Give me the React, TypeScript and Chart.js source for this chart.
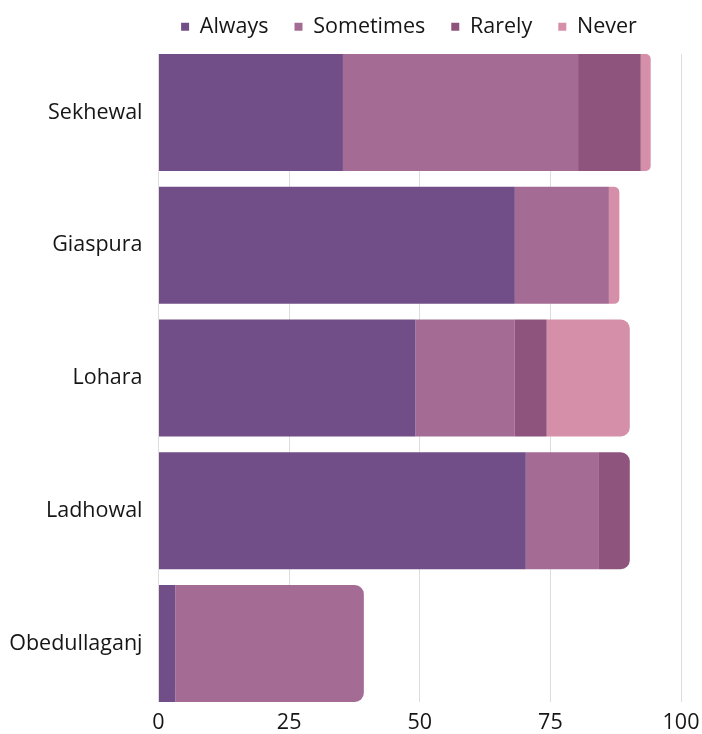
import React, { useEffect, useRef } from "react";
import { Chart, registerables } from "chart.js";

Chart.register(...registerables);

const categories = ["Sekhewal", "Giaspura", "Lohara", "Ladhowal", "Obedullaganj"];
const always = [35.3, 68.2, 49.2, 70.3, 3.2];
const sometimes = [45.0, 18.0, 19.0, 14.0, 36.1];
const rarely = [12.0, 0, 6.1, 5.9, 0];
const never = [1.9, 2.0, 15.9, 0, 0];
const xTicks = [0, 25, 50, 75, 100];

const seriesNames = ["Always", "Sometimes", "Rarely", "Never"];
const seriesColors = ["#714e87", "#a46c94", "#8f547d", "#d58fa9"];

const FONT = { family: "'Open Sans', 'Noto Sans', sans-serif", size: 21.5 };
const TEXT = "#161616";

export default function App() {
  const ref = useRef<HTMLCanvasElement | null>(null);

  useEffect(() => {
    if (!ref.current) return;
    const values = [always, sometimes, rarely, never];

    const radius = (ctx: any) => {
      const i = ctx.dataIndex;
      const sets = ctx.chart.data.datasets;
      let last = -1;
      sets.forEach((s: any, k: number) => {
        if ((s.data[i] as number) > 0) last = k;
      });
      return ctx.datasetIndex === last
        ? { topLeft: 0, bottomLeft: 0, topRight: 9, bottomRight: 9 }
        : 0;
    };

    const legendSpacer = {
      id: "legendSpacer",
      beforeInit(chart: any) {
        const lg = chart.legend;
        if (!lg) return;
        const orig = lg.fit;
        lg.fit = function () {
          orig.call(this);
          this.height += 6.5;
        };
      },
      afterLayout(chart: any) {
        const lg = chart.legend;
        if (lg) lg.left = 116;
      },
    };

    const chart = new Chart(ref.current, {
      type: "bar",
      data: {
        labels: categories.map((_, i) => i),
        datasets: seriesNames.map((name, k) => ({
          label: name,
          data: values[k],
          backgroundColor: seriesColors[k],
          borderWidth: 0,
          borderRadius: radius,
          borderSkipped: "start",
          categoryPercentage: 1,
          barPercentage: 0.8814,
        })),
      },
      plugins: [legendSpacer],
      options: {
        indexAxis: "y",
        animation: false,
        responsive: false,
        layout: { padding: { top: -10, left: 0, right: 0, bottom: 0 } },
        plugins: {
          tooltip: { enabled: false },
          legend: {
            position: "top",
            labels: {
              usePointStyle: true,
              pointStyle: "rect",
              boxWidth: 8,
              boxHeight: 8,
              padding: 26,
              color: TEXT,
              font: FONT,
            },
          },
        },
        scales: {
          x: {
            type: "linear",
            stacked: true,
            min: 0,
            max: 100,
            afterBuildTicks: (s: any) => {
              s.ticks = xTicks.map((v) => ({ value: v }));
            },
            afterFit: (s: any) => {
              s.height = 32;
              s.paddingRight = 21;
              s.paddingLeft = 0;
            },
            grid: { color: "#dddddd", lineWidth: 1, drawTicks: false },
            border: { display: false },
            ticks: { padding: 8, color: TEXT, font: FONT, maxRotation: 0 },
          },
          y: {
            type: "linear",
            stacked: true,
            reverse: true,
            offset: false,
            min: -0.4407,
            max: 4.4407,
            afterBuildTicks: (s: any) => {
              s.ticks = categories.map((_, i) => ({ value: i }));
            },
            afterFit: (s: any) => {
              s.width = 158.5;
            },
            grid: { display: false, drawTicks: false, offset: false },
            border: { display: false },
            ticks: {
              padding: 16,
              color: TEXT,
              font: FONT,
              autoSkip: false,
              callback: (v: any) => categories[Math.round(Number(v))] ?? "",
            },
          },
        },
      },
    } as any);

    return () => chart.destroy();
  }, []);

  return (
    <div style={{ position: "fixed", left: 0, top: 0, width: 702, height: 734, background: "#fff" }}>
      <canvas ref={ref} width={702} height={734} style={{ display: "block" }} />
    </div>
  );
}
